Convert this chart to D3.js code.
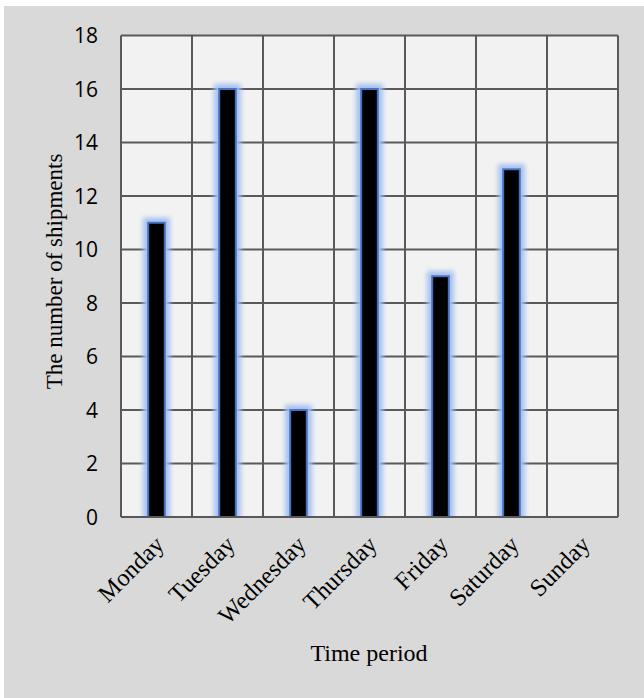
<!DOCTYPE html>
<html>
<head>
<meta charset="utf-8">
<script src="https://cdn.jsdelivr.net/npm/d3@7"></script>
<style>
  html, body { margin: 0; padding: 0; background: #ffffff; }
  svg { display: block; }
</style>
</head>
<body>
<svg id="chart" width="644" height="698"></svg>
<script>
const categories = ["Monday", "Tuesday", "Wednesday", "Thursday", "Friday", "Saturday", "Sunday"];
const shipments = [11, 16, 4, 16, 9, 13, 0];
const yTicks = [0, 2, 4, 6, 8, 10, 12, 14, 16, 18];
const yTitle = "The number of shipments";
const xTitle = "Time period";

const svg = d3.select("#chart");
const W = 644, H = 698;
const plot = { left: 121, right: 618, top: 35.5, bottom: 517 };

// panel background
svg.append("rect").attr("x", 4).attr("y", 6).attr("width", W - 4).attr("height", H - 6).attr("fill", "#d9d9d9");

const defs = svg.append("defs");
const glow = defs.append("filter").attr("id", "glow")
  .attr("x", "-100%").attr("y", "-100%").attr("width", "300%").attr("height", "300%");
glow.append("feMorphology").attr("in", "SourceAlpha").attr("operator", "dilate").attr("radius", 4).attr("result", "d");
glow.append("feGaussianBlur").attr("in", "d").attr("stdDeviation", 2.8).attr("result", "b");
glow.append("feFlood").attr("flood-color", "#a3bff0").attr("flood-opacity", 1).attr("result", "c");
glow.append("feComposite").attr("in", "c").attr("in2", "b").attr("operator", "in").attr("result", "g");
const mrg = glow.append("feMerge");
mrg.append("feMergeNode").attr("in", "g");
mrg.append("feMergeNode").attr("in", "SourceGraphic");

defs.append("clipPath").attr("id", "plotclip").append("rect")
  .attr("x", plot.left).attr("y", plot.top - 20).attr("width", plot.right - plot.left).attr("height", plot.bottom - plot.top + 20);

const x = d3.scaleBand().domain(categories).range([plot.left, plot.right]).padding(0);
const y = d3.scaleLinear().domain([0, 18]).range([plot.bottom, plot.top]);

// plot area
svg.append("rect").attr("x", plot.left).attr("y", plot.top)
  .attr("width", plot.right - plot.left).attr("height", plot.bottom - plot.top).attr("fill", "#f2f2f2");

const gridColor = "#595959";
// horizontal gridlines
svg.append("g").selectAll("line").data(yTicks).join("line")
  .attr("x1", plot.left).attr("x2", plot.right)
  .attr("y1", d => y(d)).attr("y2", d => y(d))
  .attr("stroke", gridColor).attr("stroke-width", 2);
// vertical gridlines at category boundaries
const bounds = categories.map(c => x(c)).concat([x(categories[categories.length - 1]) + x.bandwidth()]);
svg.append("g").selectAll("line").data(bounds).join("line")
  .attr("x1", d => d).attr("x2", d => d)
  .attr("y1", plot.top).attr("y2", plot.bottom)
  .attr("stroke", gridColor).attr("stroke-width", 2);

// bars
const barW = x.bandwidth() * 0.235;
const data = categories.map((c, i) => ({ c, v: shipments[i] }));
svg.append("g").attr("clip-path", "url(#plotclip)").selectAll("rect").data(data.filter(d => d.v > 0)).join("rect")
  .attr("x", d => x(d.c) + x.bandwidth() / 2 - barW / 2)
  .attr("y", d => y(d.v))
  .attr("width", barW)
  .attr("height", d => y(0) - y(d.v))
  .attr("fill", "#000000")
  .attr("stroke", "#4472c4")
  .attr("stroke-width", 2)
  .attr("filter", "url(#glow)");

// redraw bottom axis line over glow
svg.append("line").attr("x1", plot.left).attr("x2", plot.right)
  .attr("y1", plot.bottom).attr("y2", plot.bottom).attr("stroke", gridColor).attr("stroke-width", 2);

// y axis labels
const yAxis = d3.axisLeft(y).tickValues(yTicks).tickSize(0).tickPadding(0);
const yg = svg.append("g").attr("transform", `translate(${plot.left - 23},0)`).call(yAxis);
yg.select(".domain").remove();
yg.selectAll("text").attr("font-family", "'Open Sans', sans-serif").attr("font-size", 21).attr("fill", "#000").attr("dy", "0.35em");

// x axis labels
const xAxis = d3.axisBottom(x).tickSize(0).tickPadding(0);
const xg = svg.append("g").attr("transform", `translate(0,${plot.bottom})`).call(xAxis);
xg.select(".domain").remove();
xg.selectAll("text")
  .attr("font-family", "'Liberation Serif', 'Times New Roman', serif")
  .attr("font-size", 24.5).attr("fill", "#000")
  .attr("text-anchor", "end")
  .attr("dy", null).attr("y", 0)
  .attr("transform", "translate(9,29) rotate(-45)");

// titles
svg.append("text").attr("x", 369).attr("y", 661).attr("text-anchor", "middle")
  .attr("font-family", "'Liberation Serif', 'Times New Roman', serif").attr("font-size", 24).attr("fill", "#000")
  .text(xTitle);
svg.append("text").attr("transform", "translate(62,271.5) rotate(-90)").attr("text-anchor", "middle")
  .attr("font-family", "'Liberation Serif', 'Times New Roman', serif").attr("font-size", 23).attr("fill", "#000")
  .text(yTitle);
</script>
</body>
</html>
